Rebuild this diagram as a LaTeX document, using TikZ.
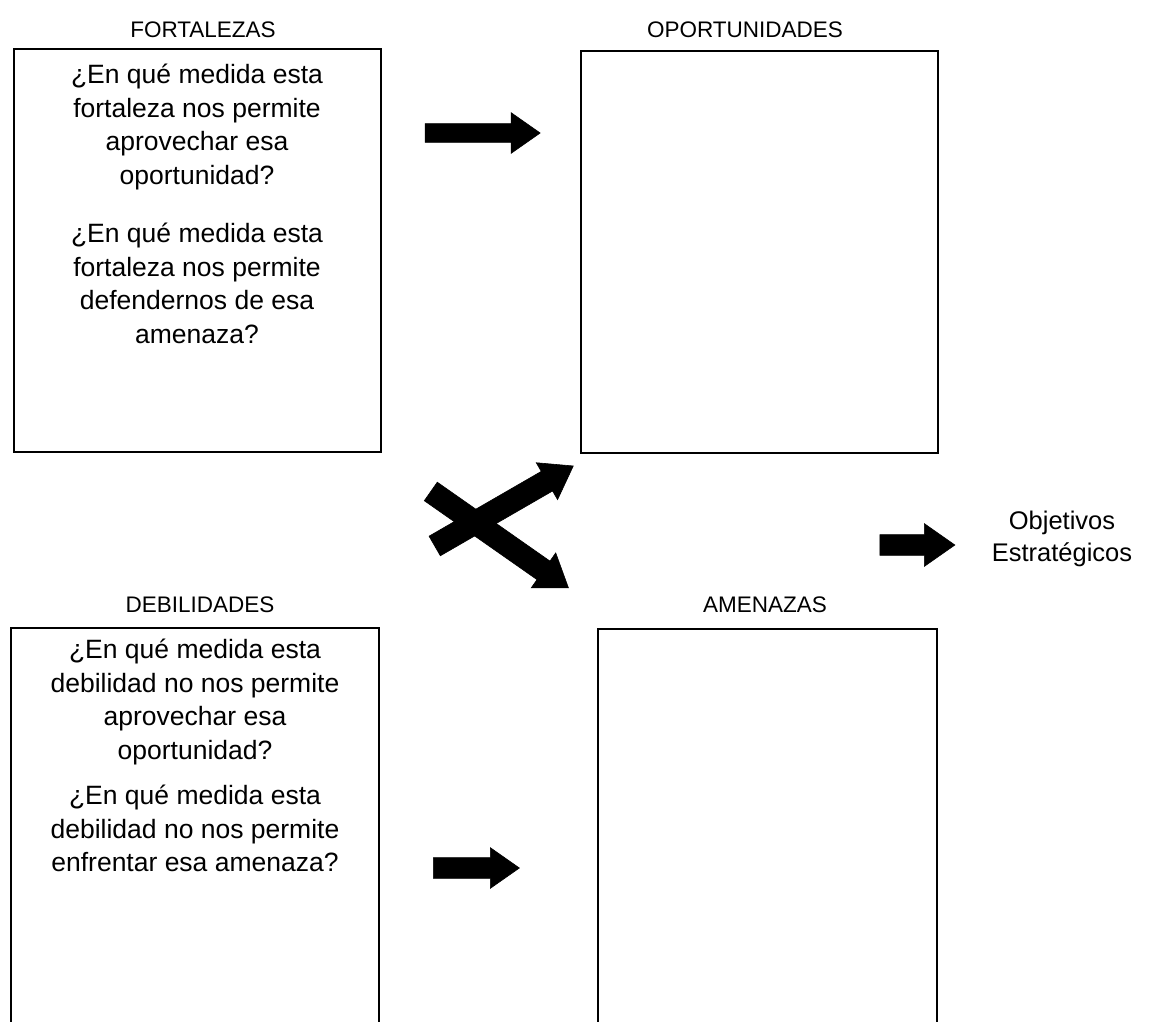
\documentclass[tikz,border=0pt]{standalone}
\usepackage{fontspec}
\setmainfont{Liberation Sans}
\usetikzlibrary{shapes.arrows}
\tikzset{
  lbl/.style={font=\fontsize{22.5}{26}\selectfont, inner sep=0pt},
  bodytxt/.style={font=\fontsize{26.5}{33.5}\selectfont, align=center, inner sep=0pt, anchor=north},
  frame/.style={draw=black, line width=1.6pt, inner sep=0pt, anchor=north west},
  blk/.style={single arrow, fill=black, draw=black, line width=0.6pt, inner sep=0pt,
    single arrow tip angle=70, single arrow head indent=0pt}
}
\begin{document}
\begin{tikzpicture}[x=1pt,y=-1pt]
\clip (0,0) rectangle (1164,1021);
\fill[white] (0,0) rectangle (1164,1021);

% titles
\node[lbl] (tF) at (203,30) {FORTALEZAS};
\node[lbl] (tO) at (745,30) {OPORTUNIDADES};
\node[lbl] (tD) at (200,605) {DEBILIDADES};
\node[lbl] (tA) at (765,605) {AMENAZAS};

% boxes
\node[frame, minimum width=367pt, minimum height=403pt] (F) at (13,48) {};
\node[frame, minimum width=357pt, minimum height=402pt] (O) at (580,50) {};
\node[frame, minimum width=368pt, minimum height=430pt] (D) at (10,627) {};
\node[frame, minimum width=339pt, minimum height=430pt] (A) at (597,628) {};

% texts
\node[bodytxt] (fq) at (197,64) {¿En qué medida esta\\fortaleza nos permite\\aprovechar esa\\oportunidad?\\[25pt]¿En qué medida esta\\fortaleza nos permite\\defendernos de esa\\amenaza?};
\node[bodytxt] (dq) at (195,639) {¿En qué medida esta\\debilidad no nos permite\\aprovechar esa\\oportunidad?\\[12pt]¿En qué medida esta\\debilidad no nos permite\\enfrentar esa amenaza?};
\node[font=\fontsize{25.5}{32}\selectfont, align=center, inner sep=0pt] (obj) at (1062,539) {Objetivos\\Estratégicos};

% block arrows
\node[blk, inner ysep=9pt, single arrow head extend=11pt, minimum height=115pt] (a1) at (476,133) {};
\node[blk, inner ysep=11pt, single arrow head extend=10pt, minimum height=160pt, rotate=30] (a2) at (497,510) {};
\node[blk, inner ysep=11pt, single arrow head extend=10pt, minimum height=168pt, rotate=-35] (a3) at (493,535) {};
\node[blk, inner ysep=10pt, single arrow head extend=11pt, minimum height=75pt] (a4) at (910,545) {};
\node[blk, inner ysep=10pt, single arrow head extend=10pt, minimum height=86pt] (a5) at (469,868) {};
\end{tikzpicture}
\end{document}
